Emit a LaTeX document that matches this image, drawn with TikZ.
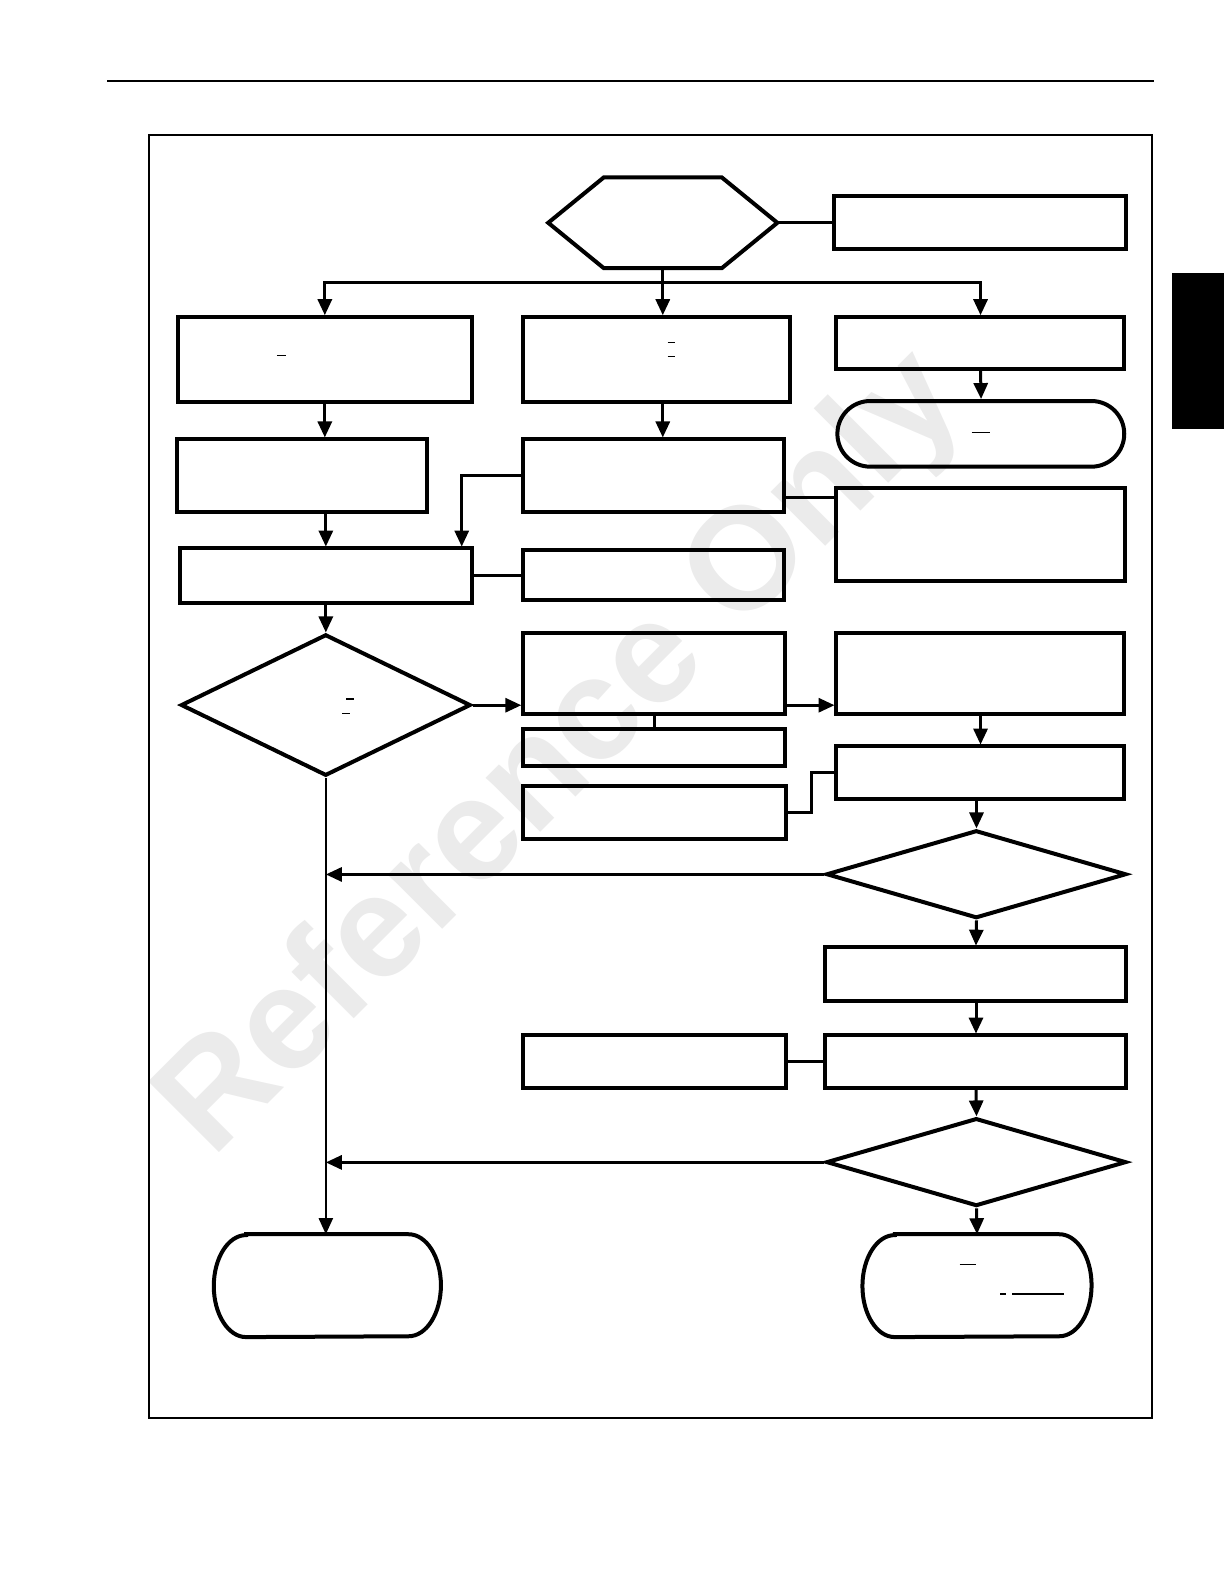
\documentclass[tikz,border=0pt]{standalone}
\usepackage{fontspec}
\newfontfamily\markfont{Liberation Sans}
\usetikzlibrary{arrows.meta,shapes.geometric,shapes.misc}
\tikzset{
	flowbox/.style={draw, rectangle, line width=2pt, inner sep=0pt},
	decision/.style={draw, diamond, line width=2pt, inner sep=0pt},
	terminal/.style={draw, rounded rectangle, line width=2pt, inner sep=0pt},
	capsule/.style={draw=none, rectangle, inner sep=0pt},
	joinline/.style={line width=1.5pt},
	flowarrow/.style={->, line width=1.5pt},
	remnant/.style={line width=0.6pt}
}
% elliptic ends round an empty node
\newcommand{\capsuleline}[1]{%
	\draw[line width=2pt] ([xshift=16pt]#1.north west) -- ([xshift=-16pt]#1.north east)
		arc[start angle=90, end angle=-90, x radius=16pt, y radius=25.25pt]
		-- ([xshift=16pt]#1.south west)
		arc[start angle=270, end angle=90, x radius=16pt, y radius=25.25pt] -- cycle;}

\begin{document}
\begin{tikzpicture}[x=0.5pt, y=-0.5pt, >={Triangle[width=7pt,length=8pt]}]
	\useasboundingbox (0,0) rectangle (1224,1584);
	\begin{scope}[scale=1.0101, transform shape]
	
	%watermark
	\node[rotate=45, text=black!8, font=\markfont\bfseries\fontsize{72}{72}\selectfont] (mark) at (558,748) {Reference Only};
	
	%page rule, frame and tab
	\draw[line width=1pt] (106,80) -- (1142,80);
	\draw[line width=1pt] (148,134) rectangle (1140,1404);
	\fill[black] (1160,270) rectangle (1214,425);
	
	%start
	\node[draw=none, minimum width=113pt, minimum height=44.5pt, inner sep=0pt] (hex) at (656,220.5) {};
	\draw[line width=2pt, line join=miter] (hex.west) -- ([xshift=27.5pt]hex.north west) -- ([xshift=-27.5pt]hex.north east)
		-- (hex.east) -- ([xshift=-27.5pt]hex.south east) -- ([xshift=27.5pt]hex.south west) -- cycle;
	\node[flowbox, minimum width=144.5pt, minimum height=26.5pt] (note) at (970.5,220.5) {};
	
	%left column
	\node[flowbox, minimum width=145.5pt, minimum height=42pt] (left1) at (321.5,356) {};
	\node[flowbox, minimum width=124pt, minimum height=36pt] (left2) at (299,471) {};
	\node[flowbox, minimum width=144.5pt, minimum height=27pt] (left3) at (322.5,570) {};
	\node[decision, minimum width=143.5pt, minimum height=70pt] (test1) at (322.5,698) {};
	\node[capsule, minimum width=112pt, minimum height=50.5pt] (endL) at (324,1272.5) {};
	\capsuleline{endL}
	
	%middle column
	\node[flowbox, minimum width=132pt, minimum height=42pt] (mid1) at (650,356) {};
	\node[flowbox, minimum width=129pt, minimum height=36pt] (mid2) at (647,471) {};
	\node[flowbox, minimum width=129pt, minimum height=25pt] (mid3) at (647,569) {};
	\node[flowbox, minimum width=129.5pt, minimum height=40pt] (mid4) at (647.5,667) {};
	\node[flowbox, minimum width=129.5pt, minimum height=18pt] (mid5) at (647.5,740) {};
	\node[flowbox, minimum width=130pt, minimum height=26.5pt] (mid6) at (648,804.5) {};
	\node[flowbox, minimum width=130pt, minimum height=26pt] (mid7) at (648,1051) {};
	
	%right column
	\node[flowbox, minimum width=142.5pt, minimum height=25.5pt] (right1) at (970.5,339.5) {};
	\node[terminal, minimum width=142pt, minimum height=32.5pt] (right2) at (971,429.5) {};
	\node[flowbox, minimum width=143pt, minimum height=46pt] (right3) at (971,529) {};
	\node[flowbox, minimum width=142.5pt, minimum height=40pt] (right4) at (970.5,667) {};
	\node[flowbox, minimum width=142.5pt, minimum height=26pt] (right5) at (970.5,765) {};
	\node[decision, minimum width=148.5pt, minimum height=43.5pt] (test2) at (966.5,865.5) {};
	\node[flowbox, minimum width=149pt, minimum height=26.5pt] (right6) at (966,964.5) {};
	\node[flowbox, minimum width=149pt, minimum height=26pt] (right7) at (966,1051) {};
	\node[decision, minimum width=148.5pt, minimum height=43.5pt] (test3) at (966.5,1150.5) {};
	\node[capsule, minimum width=113pt, minimum height=50.5pt] (endR) at (967,1272.5) {};
	\capsuleline{endR}
	
	%split under start
	\coordinate (split) at (656,280);
	\draw[joinline] (hex.south) -- (split);
	\draw[flowarrow] (split) -| (left1.north);
	\draw[flowarrow] (split) -| (right1.north);
	\draw[flowarrow] (split) -- (split |- mid1.north);
	\draw[joinline] (hex.east) -- (note.west);
	
	%left arrows
	\draw[flowarrow] (left1.south) -- (left1.south |- left2.north);
	\draw[flowarrow] (left3.north |- left2.south) -- (left3.north);
	\draw[flowarrow] (left3.south) -- (test1.north);
	\draw[flowarrow] (mid2.west) -| ([xshift=-6pt]left3.north east);
	\draw[joinline] (left3.east) -- (left3.east -| mid3.west);
	
	%middle arrows
	\draw[flowarrow] ([xshift=3pt]mid1.south) -- ([xshift=3pt]mid1.south |- mid2.north);
	\draw[joinline] ([yshift=-10.5pt]mid2.east) -- ([yshift=-10.5pt]mid2.east -| right3.west);
	\draw[flowarrow] (test1.east) -- (test1.east -| mid4.west);
	\draw[flowarrow] (test1.east -| mid4.east) -- (test1.east -| right4.west);
	\draw[joinline] (mid4.south) -- (mid5.north);
	\draw[joinline] (mid6.east) -- ++(11.5pt,0) |- (right5.west);
	\draw[joinline] (right7.west) -- (mid7.east);
	
	%right arrows
	\draw[flowarrow] (right1.south) -- (right2.north);
	\draw[flowarrow] (right4.south) -- (right5.north);
	\draw[flowarrow] (test2.north |- right5.south) -- (test2.north);
	\draw[flowarrow] (test2.south) -- (right6.north);
	\draw[flowarrow] (right6.south) -- (right7.north);
	\draw[flowarrow] (right7.south) -- (test3.north);
	\draw[flowarrow] (test3.south) -- (endR.north);
	
	%return lines
	\draw[flowarrow, line width=1pt] (test1.south) -- (test1.south |- endL.north);
	\draw[flowarrow] (test2.west) -- (test2.west -| test1.south);
	\draw[flowarrow] (test3.west) -- (test3.west -| test1.south);
	
	%small marks left in the boxes
	\draw[remnant] (274,352) -- (283,352);
	\draw[remnant] (661,339) -- (668,339);
	\draw[remnant] (661,353) -- (668,353);
	\draw[remnant] (962,428) -- (980,428);
	\draw[remnant] (343,692) -- (350,692);
	\draw[remnant] (339,706) -- (346,706);
	\draw[remnant] (950,1252) -- (966,1252);
	\draw[remnant] (990,1281) -- (996,1281);
	\draw[remnant] (1002,1281) -- (1053,1281);
	\end{scope}
\end{tikzpicture}
\end{document}
